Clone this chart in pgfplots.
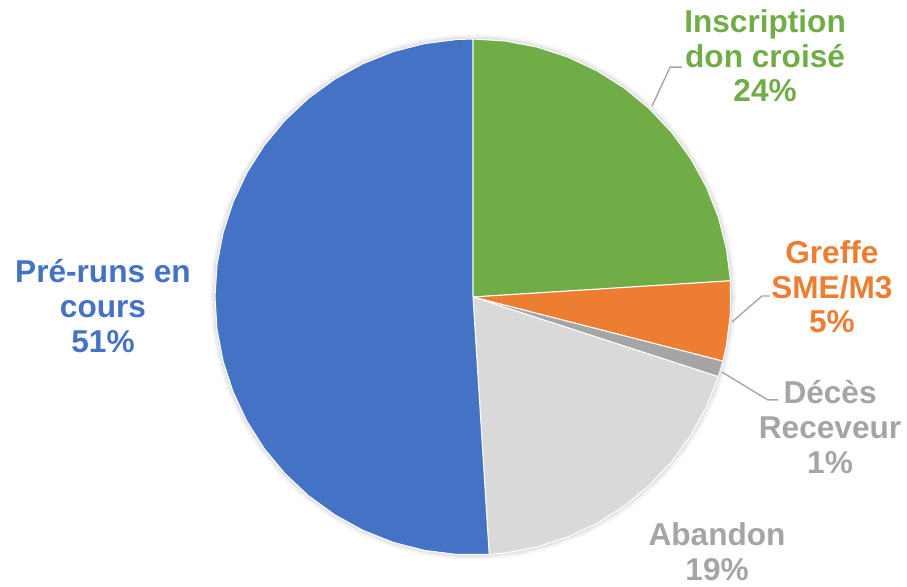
\documentclass[border=0pt]{standalone}
\usepackage{pgfplots}
\pgfplotsset{compat=1.18}
\usepackage{fontspec}
\setmainfont{Liberation Sans}
\definecolor{cblue}{HTML}{4472C4}
\definecolor{cgreen}{HTML}{70AD47}
\definecolor{corange}{HTML}{ED7D31}
\definecolor{cdgray}{HTML}{A5A5A5}
\definecolor{clgray}{HTML}{D9D9D9}
\definecolor{cleader}{HTML}{A6A6A6}
\tikzset{lbl/.style={font=\fontsize{15.8}{17.3}\selectfont\bfseries, align=center, inner sep=0pt}}
\begin{document}
\begin{tikzpicture}
\begin{axis}[
  scale only axis, width=453.5pt, height=293.5pt,
  xmin=-1.8333, xmax=1.6822, ymin=-1.1240, ymax=1.1512,
  hide axis, clip=false,
]
% soft shadow behind the pie
\addplot[draw=none, fill=black, fill opacity=0.05, data cs=polar] coordinates {
  (0,1.018) (7.2,1.018) (14.4,1.018) (21.6,1.018) (28.8,1.018) (36,1.018) (43.2,1.018) (50.4,1.018)
  (57.6,1.018) (64.8,1.018) (72,1.018) (79.2,1.018) (86.4,1.018) (93.6,1.018) (100.8,1.018) (108,1.018)
  (115.2,1.018) (122.4,1.018) (129.6,1.018) (136.8,1.018) (144,1.018) (151.2,1.018) (158.4,1.018)
  (165.6,1.018) (172.8,1.018) (180,1.018) (187.2,1.018) (194.4,1.018) (201.6,1.018) (208.8,1.018)
  (216,1.018) (223.2,1.018) (230.4,1.018) (237.6,1.018) (244.8,1.018) (252,1.018) (259.2,1.018)
  (266.4,1.018) (273.6,1.018) (280.8,1.018) (288,1.018) (295.2,1.018) (302.4,1.018) (309.6,1.018)
  (316.8,1.018) (324,1.018) (331.2,1.018) (338.4,1.018) (345.6,1.018) (352.8,1.018) (360,1.018)};
\addplot[draw=none, fill=black, fill opacity=0.06, data cs=polar] coordinates {
  (0,1.009) (7.2,1.009) (14.4,1.009) (21.6,1.009) (28.8,1.009) (36,1.009) (43.2,1.009) (50.4,1.009)
  (57.6,1.009) (64.8,1.009) (72,1.009) (79.2,1.009) (86.4,1.009) (93.6,1.009) (100.8,1.009) (108,1.009)
  (115.2,1.009) (122.4,1.009) (129.6,1.009) (136.8,1.009) (144,1.009) (151.2,1.009) (158.4,1.009)
  (165.6,1.009) (172.8,1.009) (180,1.009) (187.2,1.009) (194.4,1.009) (201.6,1.009) (208.8,1.009)
  (216,1.009) (223.2,1.009) (230.4,1.009) (237.6,1.009) (244.8,1.009) (252,1.009) (259.2,1.009)
  (266.4,1.009) (273.6,1.009) (280.8,1.009) (288,1.009) (295.2,1.009) (302.4,1.009) (309.6,1.009)
  (316.8,1.009) (324,1.009) (331.2,1.009) (338.4,1.009) (345.6,1.009) (352.8,1.009) (360,1.009)};
% Inscription don croisé 24%
\addplot[fill=cgreen, draw=white, line width=0.5pt, line join=round, data cs=polar] coordinates {
  (0,0) (90,1) (82.8,1) (75.6,1) (68.4,1) (61.2,1) (54,1) (46.8,1) (39.6,1)
  (32.4,1) (25.2,1) (18,1) (10.8,1) (3.6,1) (0,0)};
% Greffe SME/M3 5%
\addplot[fill=corange, draw=white, line width=0.5pt, line join=round, data cs=polar] coordinates {
  (0,0) (3.6,1) (-3.6,1) (-10.8,1) (-14.4,1) (0,0)};
% Décès Receveur 1%
\addplot[fill=cdgray, draw=white, line width=0.5pt, line join=round, data cs=polar] coordinates {
  (0,0) (-14.4,1) (-18,1) (0,0)};
% Abandon 19%
\addplot[fill=clgray, draw=white, line width=0.5pt, line join=round, data cs=polar] coordinates {
  (0,0) (-18,1) (-25.2,1) (-32.4,1) (-39.6,1) (-46.8,1) (-54,1) (-61.2,1)
  (-68.4,1) (-75.6,1) (-82.8,1) (-86.4,1) (0,0)};
% Pré-runs en cours 51%
\addplot[fill=cblue, draw=white, line width=0.5pt, line join=round, data cs=polar] coordinates {
  (0,0) (-86.4,1) (-93.6,1) (-100.8,1) (-108,1) (-115.2,1) (-122.4,1) (-129.6,1)
  (-136.8,1) (-144,1) (-151.2,1) (-158.4,1) (-165.6,1) (-172.8,1) (-180,1)
  (-187.2,1) (-194.4,1) (-201.6,1) (-208.8,1) (-216,1) (-223.2,1) (-230.4,1)
  (-237.6,1) (-244.8,1) (-252,1) (-259.2,1) (-266.4,1) (-270,1) (0,0)};
% leader lines
\addplot[draw=cleader, line width=0.7pt] coordinates {(0.694,0.740) (0.764,0.891) (0.810,0.891)};
\addplot[draw=cleader, line width=0.7pt] coordinates {(1.004,-0.097) (1.120,0.004) (1.151,0.004)};
\addplot[draw=cleader, line width=0.7pt] coordinates {(0.965,-0.291) (1.143,-0.399) (1.182,-0.399)};
% labels
\node[lbl, text=cgreen] at (axis cs:1.132,0.934) {Inscription\\don croisé\\24\%};
\node[lbl, text=corange] at (axis cs:1.391,0.039) {Greffe\\SME/M3\\5\%};
\node[lbl, text=cdgray] at (axis cs:1.384,-0.504) {Décès\\Receveur\\1\%};
\node[lbl, text=cblue] at (axis cs:-1.434,-0.035) {Pré-runs en\\cours\\51\%};
\node[lbl, text=cdgray] at (axis cs:0.946,-0.988) {Abandon\\19\%};
\end{axis}
\pgfresetboundingbox
\useasboundingbox (current axis.south west) rectangle (current axis.north east);
\end{tikzpicture}
\end{document}
